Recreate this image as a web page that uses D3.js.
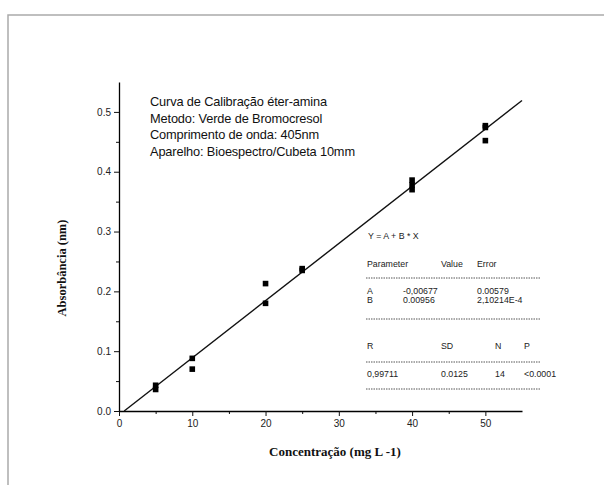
<!DOCTYPE html>
<html><head><meta charset="utf-8">
<script src="https://cdn.jsdelivr.net/npm/d3@7"></script>
<style>body{margin:0;background:#fff}svg{display:block}</style>
</head><body>
<script>
const concX = [5,5,10,10,20,20,25,25,40,40,40,50,50,50];
const absY = [0.043,0.036,0.088,0.070,0.213,0.180,0.238,0.235,0.386,0.378,0.370,0.477,0.474,0.452];
const fitA = -0.00677, fitB = 0.00956;
const xTicks = [0,10,20,30,40,50];
const yTicks = [0,0.1,0.2,0.3,0.4,0.5];
const yTickLabels = ["0.0","0.1","0.2","0.3","0.4","0.5"];
const infoLines = ["Curva de Calibração éter-amina","Metodo: Verde de Bromocresol","Comprimento de onda: 405nm","Aparelho: Bioespectro/Cubeta 10mm"];
const tableHeader = ["Parameter","Value","Error"];
const tableRows = [["A","-0,00677","0.00579"],["B","0.00956","2,10214E-4"]];
const statHeader = ["R","SD","N","P"];
const statRow = ["0,99711","0.0125","14","<0.0001"];

const W=604,H=485;
const svg=d3.select("body").append("svg").attr("width",W).attr("height",H);
svg.append("path").attr("d","M8,485 L8,15 L604,15").attr("fill","none").attr("stroke","#aaa").attr("stroke-width",1.5);

const x=d3.scaleLinear().domain([0,55]).range([119,522]);
const y=d3.scaleLinear().domain([0,0.55]).range([411,82]);
const g=svg.append("g");
const font="'Liberation Sans',Arial,sans-serif";

const xMinor=d3.axisBottom(x).tickValues(d3.range(5,55,10)).tickSize(3).tickFormat("");
const yMinor=d3.axisLeft(y).tickValues(d3.range(0.05,0.55,0.1)).tickSize(3).tickFormat("");
g.append("g").attr("transform","translate(0,411)").call(xMinor).call(s=>s.select(".domain").remove());
g.append("g").attr("transform","translate(119,0)").call(yMinor).call(s=>s.select(".domain").remove());

const xAxis=d3.axisBottom(x).tickValues(xTicks).tickSize(5).tickSizeOuter(0).tickPadding(4).tickFormat(d3.format("d"));
const yAxis=d3.axisLeft(y).tickValues(yTicks).tickSize(5).tickSizeOuter(0).tickPadding(3).tickFormat((d,i)=>yTickLabels[i]);
const xa=g.append("g").attr("transform","translate(0,411)").call(xAxis);
const ya=g.append("g").attr("transform","translate(119,0)").call(yAxis);
[xa,ya].forEach(a=>{a.selectAll("text").attr("font-family",font).attr("font-size",10).attr("fill","#222");a.select(".domain").attr("stroke-width",1.3);});
svg.selectAll(".tick line").attr("stroke","#111");

const x0=-fitA/fitB, x1=55;
g.append("line").attr("x1",x(x0)).attr("y1",y(fitA+fitB*x0)).attr("x2",x(x1)).attr("y2",y(fitA+fitB*x1)).attr("stroke","#111").attr("stroke-width",1.4);

g.selectAll("rect.pt").data(concX).join("rect").attr("class","pt")
 .attr("x",(d)=>x(d)-2.8).attr("y",(d,i)=>y(absY[i])-2.8).attr("width",5.6).attr("height",5.6).attr("fill","#000");

const serif="'Liberation Serif','DejaVu Serif',serif";
svg.append("text").attr("x",335).attr("y",456).attr("text-anchor","middle").attr("font-family",serif).attr("font-weight","bold").attr("font-size",13).attr("fill","#111").text("Concentração (mg L -1)");
svg.append("text").attr("transform","translate(66,268) rotate(-90)").attr("text-anchor","middle").attr("font-family",serif).attr("font-weight","bold").attr("font-size",12.5).attr("fill","#111").text("Absorbância (nm)");

infoLines.forEach((t,i)=>svg.append("text").attr("x",150).attr("y",106+i*16.7).attr("font-family",font).attr("font-size",12.8).attr("letter-spacing",-0.15).attr("fill","#111").text(t));

const tf=(t,xx,yy)=>svg.append("text").attr("x",xx).attr("y",yy).attr("font-family",font).attr("font-size",8.8).attr("fill","#222").text(t);
tf("Y = A + B * X",368,239);
const colX=[367,441,477];
tableHeader.forEach((t,i)=>tf(t,colX[i],267));
tableRows.forEach((r,j)=>r.forEach((t,i)=>tf(t,i==0?367:(i==1?403:477),294+j*9)));
const statX=[367,441,495,524];
statHeader.forEach((t,i)=>tf(t,statX[i],349));
statRow.forEach((t,i)=>tf(t,statX[i],377));
[278,319,362,389].forEach(yy=>svg.append("line").attr("x1",366).attr("x2",540).attr("y1",yy).attr("y2",yy).attr("stroke","#555").attr("stroke-width",1).attr("stroke-dasharray","1.5,1"));
</script>
</body></html>
